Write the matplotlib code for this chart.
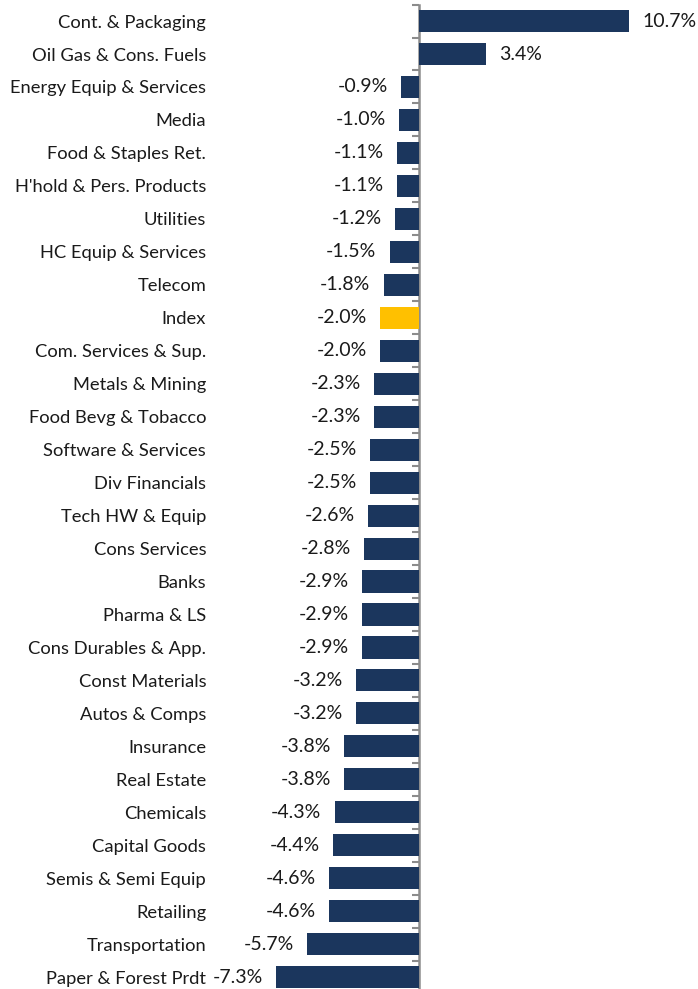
import matplotlib
matplotlib.use("Agg")
import matplotlib.pyplot as plt

# sector returns, top to bottom as in the chart
sectors = ["Cont. & Packaging", "Oil Gas & Cons. Fuels", "Energy Equip & Services",
           "Media", "Food & Staples Ret.", "H'hold & Pers. Products", "Utilities",
           "HC Equip & Services", "Telecom", "Index", "Com. Services & Sup.",
           "Metals & Mining", "Food Bevg & Tobacco", "Software & Services",
           "Div Financials", "Tech HW & Equip", "Cons Services", "Banks",
           "Pharma & LS", "Cons Durables & App.", "Const Materials", "Autos & Comps",
           "Insurance", "Real Estate", "Chemicals", "Capital Goods",
           "Semis & Semi Equip", "Retailing", "Transportation", "Paper & Forest Prdt"]
returns = [10.7, 3.4, -0.9, -1.0, -1.1, -1.1, -1.2, -1.5, -1.8, -2.0, -2.0,
           -2.3, -2.3, -2.5, -2.5, -2.6, -2.8, -2.9, -2.9, -2.9, -3.2, -3.2,
           -3.8, -3.8, -4.3, -4.4, -4.6, -4.6, -5.7, -7.3]

navy = "#1B365D"
gold = "#FFC000"
colors = [gold if s == "Index" else navy for s in sectors]

plt.rcParams['font.family'] = ['Lato', 'DejaVu Sans']

fig = plt.figure(figsize=(6.98, 9.89), dpi=100)
ax = fig.add_axes([0.2994, -0.0047, 0.7006, 1.0001])

pos = list(range(len(sectors)))
ax.barh(pos, returns, height=0.67, color=colors)
ax.set_ylim(len(sectors) - 0.5, -0.5)
ax.set_xlim(-10.7, 14.22)

ax.set_yticks(pos)
ax.set_yticklabels(sectors, fontsize=13.2, color="#1a1a1a")
ax.tick_params(axis='y', length=0, pad=2)
ax.set_xticks([])
for sp in ax.spines.values():
    sp.set_visible(False)

# value labels
for i, v in enumerate(returns):
    off = 9.5 if v >= 0 else -9.5
    ax.annotate(f"{v:.1f}%", (v, i), xytext=(off, 0), textcoords='offset points',
                ha='left' if v >= 0 else 'right', va='center', fontsize=14,
                color="#1a1a1a")

# zero line with small ticks between categories
x0, x1 = ax.get_xlim()
zero = ax.secondary_yaxis(-x0 / (x1 - x0))
zero.set_yticks([p - 0.5 for p in pos] + [len(sectors) - 0.5])
zero.set_yticklabels([])
zero.tick_params(axis='y', length=5, width=1.5, color="#8c8c8c", direction='out')
zero.spines['left'].set_color("#8c8c8c")
zero.spines['left'].set_linewidth(1.8)

fig.savefig("out.png", dpi=100)
